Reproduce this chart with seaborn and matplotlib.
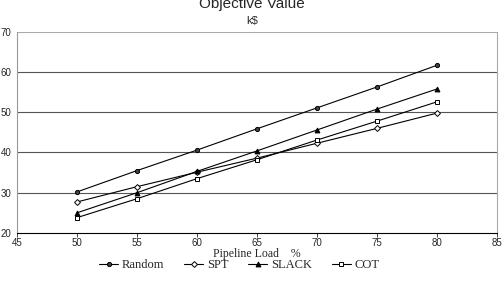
import numpy as np
import pandas as pd
import matplotlib
matplotlib.use("Agg")
import matplotlib.pyplot as plt
import seaborn as sns

load = [50, 55, 60, 65, 70, 75, 80]
random_vals = [30.2, 35.5, 40.6, 45.9, 51.1, 56.3, 61.7]
spt_vals = [27.7, 31.5, 35.1, 38.6, 42.3, 46.0, 49.8]
slack_vals = [25.0, 30.0, 35.3, 40.4, 45.6, 50.8, 55.8]
cot_vals = [23.8, 28.5, 33.5, 38.2, 43.1, 47.8, 52.6]

series = ["Random", "SPT", "SLACK", "COT"]
df = pd.DataFrame({"load": load, "Random": random_vals, "SPT": spt_vals,
                   "SLACK": slack_vals, "COT": cot_vals})
df = df.melt(id_vars="load", var_name="policy", value_name="value")

sns.set_style("white")
fig = plt.figure(figsize=(5.04, 2.9), dpi=100)
ax = fig.add_axes([0.034, 0.197, 0.952, 0.693])

markers = {"Random": "o", "SPT": "D", "SLACK": "^", "COT": "s"}
sizes = {"Random": 3, "SPT": 3, "SLACK": 3.5, "COT": 3.5}
faces = {"Random": "#444444", "SPT": "white", "SLACK": "black", "COT": "white"}

for name in series:
    sub = df[df.policy == name]
    sns.lineplot(data=sub, x="load", y="value", ax=ax, color="black", lw=0.8,
                 marker=markers[name], markersize=sizes[name],
                 markerfacecolor=faces[name], markeredgecolor="black",
                 markeredgewidth=0.7, label=name, legend=False)

ax.set_xlim(45, 85)
ax.set_ylim(20, 70)
ax.set_xticks(range(45, 90, 5))
ax.set_yticks(range(20, 80, 10))
for y in [30, 40, 50, 60]:
    ax.axhline(y, color="#555555", lw=0.8, zorder=0)
ax.axhline(70, color="#aaaaaa", lw=0.8, zorder=0)

ax.tick_params(axis="both", labelsize=7, length=3, width=0.6, pad=1, direction="out")
ax.tick_params(axis="y", length=0, pad=4)
ax.tick_params(axis="x", bottom=True)
for lab in ax.get_xticklabels() + ax.get_yticklabels():
    lab.set_family("Liberation Sans")
ax.spines["top"].set_visible(False)
ax.spines["right"].set_color("#aaaaaa")
ax.spines["left"].set_color("#999999")
ax.spines["bottom"].set_color("black")
for s in ax.spines.values():
    s.set_linewidth(0.8)

ax.set_xlabel("Pipeline Load    %", family="Liberation Serif", fontsize=8.5, labelpad=0)
ax.set_ylabel("")

# title sits partly above the top edge, as in the reference
fig.text(0.5, 0.985, "Objective Value", ha="center", va="center",
         family="Liberation Sans", fontsize=11)
fig.text(0.5, 0.928, "k$", ha="center", va="center",
         family="Liberation Sans", fontsize=8)

h, l = ax.get_legend_handles_labels()
fig.legend(h, l, loc="center", bbox_to_anchor=(0.475, 0.085), ncol=4,
           frameon=False, prop={"family": "Liberation Serif", "size": 9},
           handlelength=1.5, columnspacing=1.6, handletextpad=0.3)

fig.savefig("out.png", dpi=100)
